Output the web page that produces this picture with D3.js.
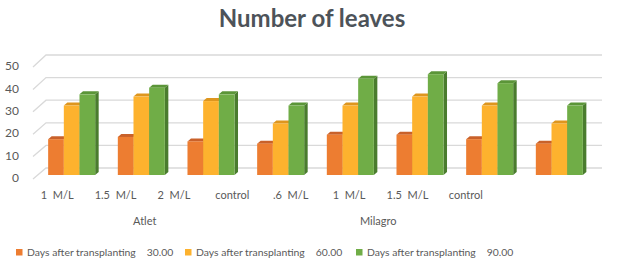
<!DOCTYPE html>
<html><head><meta charset="utf-8">
<script src="https://cdn.jsdelivr.net/npm/d3@7"></script>
<style>
html,body{margin:0;padding:0;background:#fff;}
svg{display:block;}
text{font-family:Lato,"Open Sans",sans-serif;}
</style></head>
<body><svg id="c" width="620" height="267"></svg>
<script>
// ---- data ----
const categories = ["1  M/L","1.5  M/L","2  M/L","control",".6  M/L","1  M/L","1.5  M/L","control"];
const groups = ["Atlet","Milagro"];
const groupOf = [0,0,0,0,1,1,1,1];
const seriesLabel = "Days after transplanting";
const seriesDays = ["30.00","60.00","90.00"];
const day30 = [16,17,15,14,18,18,16,14];
const day60 = [31,35,33,23,31,35,31,23];
const day90 = [36,39,36,31,43,45,41,31];
const yTicks = [0,10,20,30,40,50];
const title = "Number of leaves";

const series = [day30, day60, day90];
const front = ["#ED7D31","#FDB22E","#70AD47"];
const topC  = ["#C9612A","#DE961E","#5B9538"];
const sideC = ["#B0551F","#C98710","#4A7C2E"];

const svg = d3.select("#c");
const ids = categories.map((c,i)=>i);

// scales
const x = d3.scaleBand().domain(ids).range([37,594]).paddingInner(0.325).paddingOuter(0.16);
const xs = d3.scaleBand().domain([0,1,2]).range([0,x.bandwidth()]);
const yBar = d3.scaleLinear().domain([0,50]).range([175,63]);
const yFront = d3.scaleLinear().domain([0,50]).range([178,66]);
const yBack = d3.scaleLinear().domain([0,50]).range([168,55]);
const xLabel = d3.scaleBand().domain(ids).range([28,495]);
const depth = {x0:33, x1:46, x2:602};

// title
svg.append("text").attr("x",312).attr("y",27).attr("text-anchor","middle")
  .attr("font-size",24).attr("font-weight","bold").attr("fill","#4D5359").text(title);

// gridlines
const grid = svg.append("g").attr("stroke","#D9D9D9").attr("stroke-width",1.3).attr("fill","none");
yTicks.forEach(v=>{
  grid.append("path").attr("d", d3.line()([[depth.x0,yFront(v)+1],[depth.x1,yBack(v)],[depth.x2,yBack(v)]]));
});

// y labels
svg.append("g").selectAll("text").data(yTicks).join("text")
  .attr("x",19).attr("y",d=>yFront(d)).attr("dy","0.35em").attr("text-anchor","end")
  .attr("font-size",12).attr("fill","#595959").text(d=>d);

// bars
const dx = 3.5, dy = 3;
const bars = svg.append("g");
ids.forEach(i=>{
  series.forEach((s,k)=>{
    const v = s[i];
    const x0 = x(i)+xs(k), w = xs.bandwidth();
    const yt = yBar(v), yb = yBar(0);
    const g = bars.append("g");
    g.append("path").attr("fill",sideC[k])
      .attr("d", d3.line()([[x0+w,yt],[x0+w+dx,yt-dy],[x0+w+dx,yb-dy],[x0+w,yb]])+"Z");
    g.append("path").attr("fill",topC[k])
      .attr("d", d3.line()([[x0,yt],[x0+dx,yt-dy],[x0+w+dx,yt-dy],[x0+w,yt]])+"Z");
    g.append("rect").attr("x",x0).attr("y",yt).attr("width",w).attr("height",yb-yt).attr("fill",front[k]);
  });
});

// category labels
svg.append("g").selectAll("text").data(ids).join("text")
  .attr("x",d=>xLabel(d)+xLabel.bandwidth()/2).attr("y",199)
  .attr("text-anchor","middle").attr("font-size",11).attr("fill","#595959")
  .style("white-space","pre").text(d=>categories[d]);

// group labels
groups.forEach((gname,gi)=>{
  const idx = ids.filter(i=>groupOf[i]===gi);
  const cx = (xLabel(idx[0]) + xLabel(idx[idx.length-1]) + xLabel.bandwidth())/2;
  svg.append("text").attr("x",cx).attr("y",225).attr("text-anchor","middle")
    .attr("font-size",11).attr("fill","#595959").text(gname);
});

// legend
const legX = [16,185,356];
seriesDays.forEach((n,k)=>{
  svg.append("rect").attr("x",legX[k]).attr("y",249).attr("width",6.5).attr("height",6.5).attr("fill",front[k]);
  const t = svg.append("text").attr("x",legX[k]+11).attr("y",256).attr("font-size",10.4).attr("fill","#595959");
  t.append("tspan").text(seriesLabel);
  t.append("tspan").attr("dx",11).text(n);
});
</script></body></html>
